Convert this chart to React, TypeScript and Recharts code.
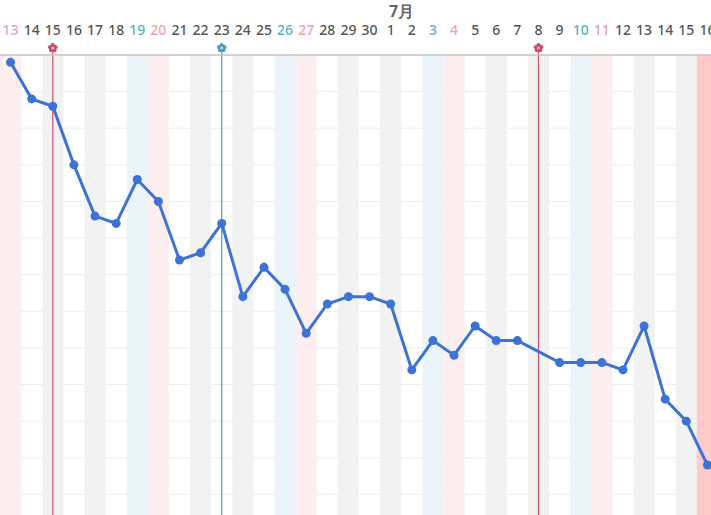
import { ComposedChart, Line, XAxis, YAxis, CartesianGrid, ReferenceArea, ReferenceLine } from "recharts"

// June 13 – July 16
const dayLabels = [
  "13", "14", "15", "16", "17", "18", "19", "20", "21", "22", "23", "24", "25", "26", "27", "28", "29", "30",
  "1", "2", "3", "4", "5", "6", "7", "8", "9", "10", "11", "12", "13", "14", "15", "16",
]
// 0 = Sun ... 6 = Sat
const weekdays = [0, 1, 2, 3, 4, 5, 6, 0, 1, 2, 3, 4, 5, 6, 0, 1, 2, 3, 4, 5, 6, 0, 1, 2, 3, 4, 5, 6, 0, 1, 2, 3, 4, 5]
const weights: (number | null)[] = [
  59.9, 59.4, 59.3, 58.5, 57.8, 57.7, 58.3, 58.0, 57.2, 57.3, 57.7, 56.7, 57.1, 56.8, 56.2, 56.6, 56.7, 56.7,
  56.6, 55.7, 56.1, 55.9, 56.3, 56.1, 56.1, null, 55.8, 55.8, 55.8, 55.7, 56.3, 55.3, 55.0, 54.4,
]
const monthLabel = "7月"
const monthStart = 18
const todayIndex = 33
const markers = [
  { index: 2, color: "#cc4d66" },
  { index: 10, color: "#4a9cc2" },
  { index: 25, color: "#cc4d66" },
]
const yTicks = [53.5, 54, 54.5, 55, 55.5, 56, 56.5, 57, 57.5, 58, 58.5, 59, 59.5, 60]

const data = dayLabels.map((label, i) => ({ i, label, weight: weights[i] }))

function bandColor(i: number) {
  if (i === todayIndex) return "#ffcaca"
  const w = weekdays[i]
  if (w === 6) return "#ebf5f9"
  if (w === 0) return "#fdeff0"
  if (w === 2 || w === 4) return "#f2f2f2"
  return null
}

function labelColor(i: number) {
  const w = weekdays[i]
  if (w === 6) return "#5ab0c6"
  if (w === 0) return "#e9a3b4"
  return "#555"
}

function DayTick(props: any) {
  const { x, payload } = props
  const i = payload.value as number
  return (
    <g style={{ fontFamily: "'Noto Sans', sans-serif" }}>
      {i === monthStart && (
        <text x={x + 11} y={17} textAnchor="middle" fontSize={16} fontWeight={700} fill="#666">
          {monthLabel}
        </text>
      )}
      <text x={x} y={35} textAnchor="middle" fontSize={14} fontWeight={500} fill={labelColor(i)}>
        {dayLabels[i]}
      </text>
    </g>
  )
}

function Flower(color: string) {
  return (props: any) => {
    const { viewBox } = props
    const cx = viewBox.x
    const cy = viewBox.y - 7
    const petals = [0, 72, 144, 216, 288].map((a) => {
      const r = (a - 90) * (Math.PI / 180)
      return <circle key={a} cx={cx + Math.cos(r) * 2.8} cy={cy + Math.sin(r) * 2.8} r={2.1} fill={color} />
    })
    return (
      <g>
        <line x1={cx} y1={cy} x2={cx} y2={viewBox.y} stroke={color} strokeWidth={1.2} />
        {petals}
        <circle cx={cx} cy={cy} r={1.5} fill="#fff" opacity={0.5} />
      </g>
    )
  }
}

export default function App() {
  return (
    <div style={{ position: "absolute", left: 0, top: 0, width: 711, height: 515, overflow: "hidden", background: "#fff" }}>
      <ComposedChart width={718} height={531} data={data} margin={{ top: 0, right: 0, bottom: 0, left: 0 }}>
        {data.map((d) => {
          const c = bandColor(d.i)
          return c ? (
            <ReferenceArea key={d.i} x1={d.i - 0.5} x2={d.i + 0.5} fill={c} fillOpacity={1} stroke="none" ifOverflow="visible" />
          ) : null
        })}
        <CartesianGrid vertical={false} stroke="#ededed" strokeWidth={1} />
        <XAxis
          dataKey="i"
          type="number"
          orientation="top"
          domain={[-0.5, 33.5]}
          ticks={data.map((d) => d.i)}
          interval={0}
          height={55}
          tickLine={false}
          axisLine={{ stroke: "#c4c4c4", strokeWidth: 1.5 }}
          tick={<DayTick />}
        />
        <YAxis hide domain={[53.5, 60]} ticks={yTicks} />
        {markers.map((m) => (
          <ReferenceLine
            key={m.index}
            x={m.index}
            stroke={m.color}
            strokeWidth={1.2}
            ifOverflow="visible"
            label={Flower(m.color)}
          />
        ))}
        <Line
          type="linear"
          dataKey="weight"
          stroke="#3d72d6"
          strokeWidth={3}
          connectNulls
          dot={{ r: 4.5, fill: "#3d72d6", stroke: "#3d72d6", strokeWidth: 0 }}
          isAnimationActive={false}
        />
      </ComposedChart>
    </div>
  )
}
